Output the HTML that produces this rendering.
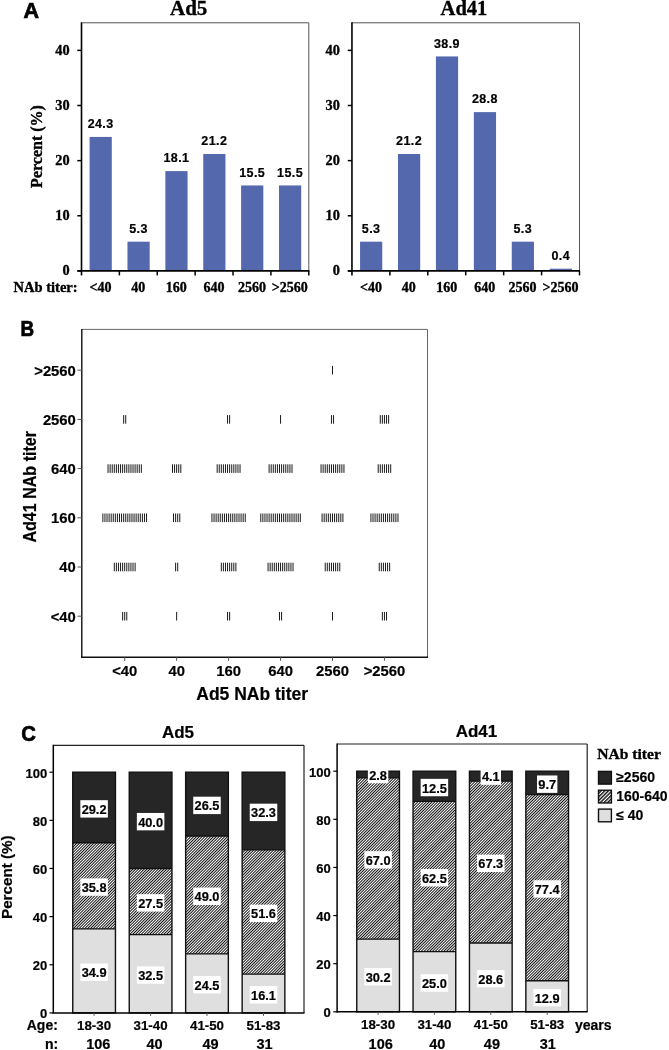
<!DOCTYPE html>
<html><head><meta charset="utf-8"><title>Figure</title>
<style>
html,body{margin:0;padding:0;background:#fff;}
body{width:669px;height:1050px;overflow:hidden;font-family:"Liberation Sans",sans-serif;}
svg{display:block;will-change:transform;}
</style></head><body>
<svg width="669" height="1050" viewBox="0 0 669 1050">
<rect width="669" height="1050" fill="#fff"/>
<text x="23.40" y="18.20" font-size="21.5" font-family="'Liberation Sans', sans-serif" font-weight="bold" text-anchor="start" fill="#000" stroke="#000" stroke-width="0.7" >A</text>
<rect x="89.59" y="136.93" width="22.20" height="133.97" fill="#5469AD"/>
<text x="100.64" y="128.13" font-size="12.5" font-family="'Liberation Sans', sans-serif" font-weight="bold" text-anchor="middle" fill="#000" stroke="#000" stroke-width="0.2" letter-spacing="0.4">24.3</text>
<text x="100.44" y="292.20" font-size="14" font-family="'Liberation Serif', serif" font-weight="bold" text-anchor="middle" fill="#000" stroke="#000" stroke-width="0.35" >&lt;40</text>
<rect x="127.47" y="241.68" width="22.20" height="29.22" fill="#5469AD"/>
<text x="138.52" y="232.88" font-size="12.5" font-family="'Liberation Sans', sans-serif" font-weight="bold" text-anchor="middle" fill="#000" stroke="#000" stroke-width="0.2" letter-spacing="0.4">5.3</text>
<text x="138.32" y="292.20" font-size="14" font-family="'Liberation Serif', serif" font-weight="bold" text-anchor="middle" fill="#000" stroke="#000" stroke-width="0.35" >40</text>
<rect x="165.36" y="171.11" width="22.20" height="99.79" fill="#5469AD"/>
<text x="176.41" y="162.31" font-size="12.5" font-family="'Liberation Sans', sans-serif" font-weight="bold" text-anchor="middle" fill="#000" stroke="#000" stroke-width="0.2" letter-spacing="0.4">18.1</text>
<text x="176.21" y="292.20" font-size="14" font-family="'Liberation Serif', serif" font-weight="bold" text-anchor="middle" fill="#000" stroke="#000" stroke-width="0.35" >160</text>
<rect x="203.24" y="154.02" width="22.20" height="116.88" fill="#5469AD"/>
<text x="214.29" y="145.22" font-size="12.5" font-family="'Liberation Sans', sans-serif" font-weight="bold" text-anchor="middle" fill="#000" stroke="#000" stroke-width="0.2" letter-spacing="0.4">21.2</text>
<text x="214.09" y="292.20" font-size="14" font-family="'Liberation Serif', serif" font-weight="bold" text-anchor="middle" fill="#000" stroke="#000" stroke-width="0.35" >640</text>
<rect x="241.12" y="185.44" width="22.20" height="85.46" fill="#5469AD"/>
<text x="252.17" y="176.64" font-size="12.5" font-family="'Liberation Sans', sans-serif" font-weight="bold" text-anchor="middle" fill="#000" stroke="#000" stroke-width="0.2" letter-spacing="0.4">15.5</text>
<text x="251.97" y="292.20" font-size="14" font-family="'Liberation Serif', serif" font-weight="bold" text-anchor="middle" fill="#000" stroke="#000" stroke-width="0.35" >2560</text>
<rect x="279.01" y="185.44" width="22.20" height="85.46" fill="#5469AD"/>
<text x="290.06" y="176.64" font-size="12.5" font-family="'Liberation Sans', sans-serif" font-weight="bold" text-anchor="middle" fill="#000" stroke="#000" stroke-width="0.2" letter-spacing="0.4">15.5</text>
<text x="289.86" y="292.20" font-size="14" font-family="'Liberation Serif', serif" font-weight="bold" text-anchor="middle" fill="#000" stroke="#000" stroke-width="0.35" >&gt;2560</text>
<line x1="81.50" y1="22.80" x2="308.80" y2="22.80" stroke="#555" stroke-width="1"/>
<line x1="308.80" y1="22.80" x2="308.80" y2="270.90" stroke="#555" stroke-width="1"/>
<line x1="81.50" y1="22.30" x2="81.50" y2="275.40" stroke="#000" stroke-width="1.6"/>
<line x1="77.40" y1="270.90" x2="309.30" y2="270.90" stroke="#000" stroke-width="1.7"/>
<line x1="77.30" y1="270.90" x2="81.50" y2="270.90" stroke="#000" stroke-width="1.5"/>
<text x="69.60" y="275.40" font-size="14.3" font-family="'Liberation Serif', serif" font-weight="bold" text-anchor="end" fill="#000" stroke="#000" stroke-width="0.35" >0</text>
<line x1="77.30" y1="215.77" x2="81.50" y2="215.77" stroke="#000" stroke-width="1.5"/>
<text x="69.60" y="220.27" font-size="14.3" font-family="'Liberation Serif', serif" font-weight="bold" text-anchor="end" fill="#000" stroke="#000" stroke-width="0.35" >10</text>
<line x1="77.30" y1="160.63" x2="81.50" y2="160.63" stroke="#000" stroke-width="1.5"/>
<text x="69.60" y="165.13" font-size="14.3" font-family="'Liberation Serif', serif" font-weight="bold" text-anchor="end" fill="#000" stroke="#000" stroke-width="0.35" >20</text>
<line x1="77.30" y1="105.50" x2="81.50" y2="105.50" stroke="#000" stroke-width="1.5"/>
<text x="69.60" y="110.00" font-size="14.3" font-family="'Liberation Serif', serif" font-weight="bold" text-anchor="end" fill="#000" stroke="#000" stroke-width="0.35" >30</text>
<line x1="77.30" y1="50.37" x2="81.50" y2="50.37" stroke="#000" stroke-width="1.5"/>
<text x="69.60" y="54.87" font-size="14.3" font-family="'Liberation Serif', serif" font-weight="bold" text-anchor="end" fill="#000" stroke="#000" stroke-width="0.35" >40</text>
<line x1="119.38" y1="270.90" x2="119.38" y2="275.40" stroke="#000" stroke-width="1.5"/>
<line x1="157.27" y1="270.90" x2="157.27" y2="275.40" stroke="#000" stroke-width="1.5"/>
<line x1="195.15" y1="270.90" x2="195.15" y2="275.40" stroke="#000" stroke-width="1.5"/>
<line x1="233.03" y1="270.90" x2="233.03" y2="275.40" stroke="#000" stroke-width="1.5"/>
<line x1="270.92" y1="270.90" x2="270.92" y2="275.40" stroke="#000" stroke-width="1.5"/>
<line x1="308.80" y1="270.90" x2="308.80" y2="275.40" stroke="#000" stroke-width="1.5"/>
<text x="170.00" y="15.20" font-size="21" font-family="'Liberation Serif', serif" font-weight="bold" text-anchor="start" fill="#000" stroke="#000" stroke-width="0.35" >Ad5</text>
<rect x="360.06" y="241.68" width="22.20" height="29.22" fill="#5469AD"/>
<text x="371.11" y="232.88" font-size="12.5" font-family="'Liberation Sans', sans-serif" font-weight="bold" text-anchor="middle" fill="#000" stroke="#000" stroke-width="0.2" letter-spacing="0.4">5.3</text>
<text x="370.91" y="292.20" font-size="14" font-family="'Liberation Serif', serif" font-weight="bold" text-anchor="middle" fill="#000" stroke="#000" stroke-width="0.35" >&lt;40</text>
<rect x="397.99" y="154.02" width="22.20" height="116.88" fill="#5469AD"/>
<text x="409.04" y="145.22" font-size="12.5" font-family="'Liberation Sans', sans-serif" font-weight="bold" text-anchor="middle" fill="#000" stroke="#000" stroke-width="0.2" letter-spacing="0.4">21.2</text>
<text x="408.84" y="292.20" font-size="14" font-family="'Liberation Serif', serif" font-weight="bold" text-anchor="middle" fill="#000" stroke="#000" stroke-width="0.35" >40</text>
<rect x="435.91" y="56.43" width="22.20" height="214.47" fill="#5469AD"/>
<text x="446.96" y="47.63" font-size="12.5" font-family="'Liberation Sans', sans-serif" font-weight="bold" text-anchor="middle" fill="#000" stroke="#000" stroke-width="0.2" letter-spacing="0.4">38.9</text>
<text x="446.76" y="292.20" font-size="14" font-family="'Liberation Serif', serif" font-weight="bold" text-anchor="middle" fill="#000" stroke="#000" stroke-width="0.35" >160</text>
<rect x="473.84" y="112.12" width="22.20" height="158.78" fill="#5469AD"/>
<text x="484.89" y="103.32" font-size="12.5" font-family="'Liberation Sans', sans-serif" font-weight="bold" text-anchor="middle" fill="#000" stroke="#000" stroke-width="0.2" letter-spacing="0.4">28.8</text>
<text x="484.69" y="292.20" font-size="14" font-family="'Liberation Serif', serif" font-weight="bold" text-anchor="middle" fill="#000" stroke="#000" stroke-width="0.35" >640</text>
<rect x="511.76" y="241.68" width="22.20" height="29.22" fill="#5469AD"/>
<text x="522.81" y="232.88" font-size="12.5" font-family="'Liberation Sans', sans-serif" font-weight="bold" text-anchor="middle" fill="#000" stroke="#000" stroke-width="0.2" letter-spacing="0.4">5.3</text>
<text x="522.61" y="292.20" font-size="14" font-family="'Liberation Serif', serif" font-weight="bold" text-anchor="middle" fill="#000" stroke="#000" stroke-width="0.35" >2560</text>
<rect x="549.69" y="268.69" width="22.20" height="2.21" fill="#5469AD"/>
<text x="560.74" y="259.89" font-size="12.5" font-family="'Liberation Sans', sans-serif" font-weight="bold" text-anchor="middle" fill="#000" stroke="#000" stroke-width="0.2" letter-spacing="0.4">0.4</text>
<text x="560.54" y="292.20" font-size="14" font-family="'Liberation Serif', serif" font-weight="bold" text-anchor="middle" fill="#000" stroke="#000" stroke-width="0.35" >&gt;2560</text>
<line x1="351.95" y1="22.80" x2="579.50" y2="22.80" stroke="#555" stroke-width="1"/>
<line x1="579.50" y1="22.80" x2="579.50" y2="270.90" stroke="#555" stroke-width="1"/>
<line x1="351.95" y1="22.30" x2="351.95" y2="275.40" stroke="#000" stroke-width="1.6"/>
<line x1="347.85" y1="270.90" x2="580.00" y2="270.90" stroke="#000" stroke-width="1.7"/>
<line x1="347.75" y1="270.90" x2="351.95" y2="270.90" stroke="#000" stroke-width="1.5"/>
<text x="339.90" y="275.40" font-size="14.3" font-family="'Liberation Serif', serif" font-weight="bold" text-anchor="end" fill="#000" stroke="#000" stroke-width="0.35" >0</text>
<line x1="347.75" y1="215.77" x2="351.95" y2="215.77" stroke="#000" stroke-width="1.5"/>
<text x="339.90" y="220.27" font-size="14.3" font-family="'Liberation Serif', serif" font-weight="bold" text-anchor="end" fill="#000" stroke="#000" stroke-width="0.35" >10</text>
<line x1="347.75" y1="160.63" x2="351.95" y2="160.63" stroke="#000" stroke-width="1.5"/>
<text x="339.90" y="165.13" font-size="14.3" font-family="'Liberation Serif', serif" font-weight="bold" text-anchor="end" fill="#000" stroke="#000" stroke-width="0.35" >20</text>
<line x1="347.75" y1="105.50" x2="351.95" y2="105.50" stroke="#000" stroke-width="1.5"/>
<text x="339.90" y="110.00" font-size="14.3" font-family="'Liberation Serif', serif" font-weight="bold" text-anchor="end" fill="#000" stroke="#000" stroke-width="0.35" >30</text>
<line x1="347.75" y1="50.37" x2="351.95" y2="50.37" stroke="#000" stroke-width="1.5"/>
<text x="339.90" y="54.87" font-size="14.3" font-family="'Liberation Serif', serif" font-weight="bold" text-anchor="end" fill="#000" stroke="#000" stroke-width="0.35" >40</text>
<line x1="389.88" y1="270.90" x2="389.88" y2="275.40" stroke="#000" stroke-width="1.5"/>
<line x1="427.80" y1="270.90" x2="427.80" y2="275.40" stroke="#000" stroke-width="1.5"/>
<line x1="465.73" y1="270.90" x2="465.73" y2="275.40" stroke="#000" stroke-width="1.5"/>
<line x1="503.65" y1="270.90" x2="503.65" y2="275.40" stroke="#000" stroke-width="1.5"/>
<line x1="541.58" y1="270.90" x2="541.58" y2="275.40" stroke="#000" stroke-width="1.5"/>
<line x1="579.50" y1="270.90" x2="579.50" y2="275.40" stroke="#000" stroke-width="1.5"/>
<text x="440.60" y="15.40" font-size="20.5" font-family="'Liberation Serif', serif" font-weight="bold" text-anchor="start" fill="#000" stroke="#000" stroke-width="0.35" >Ad41</text>
<text x="13.60" y="291.60" font-size="14.5" font-family="'Liberation Serif', serif" font-weight="bold" text-anchor="start" fill="#000" stroke="#000" stroke-width="0.35" >NAb titer:</text>
<text x="41.60" y="146.50" font-size="16" font-family="'Liberation Serif', serif" font-weight="bold" text-anchor="middle" fill="#000" stroke="#000" stroke-width="0.35" transform="rotate(-90 41.60 146.50)" >Percent (%)</text>
<text x="20.40" y="336.00" font-size="21.5" font-family="'Liberation Sans', sans-serif" font-weight="bold" text-anchor="start" fill="#000" stroke="#000" stroke-width="0.7" textLength="13.60" lengthAdjust="spacingAndGlyphs" >B</text>
<line x1="81.80" y1="329.40" x2="427.50" y2="329.40" stroke="#666" stroke-width="1"/>
<line x1="427.50" y1="329.40" x2="427.50" y2="657.30" stroke="#666" stroke-width="1"/>
<line x1="81.80" y1="328.90" x2="81.80" y2="658.00" stroke="#111" stroke-width="1.4"/>
<line x1="81.10" y1="657.30" x2="428.00" y2="657.30" stroke="#111" stroke-width="1.4"/>
<line x1="77.50" y1="616.20" x2="81.80" y2="616.20" stroke="#555" stroke-width="1"/>
<text x="75.80" y="621.60" font-size="14.8" font-family="'Liberation Sans', sans-serif" font-weight="bold" text-anchor="end" fill="#000" stroke="#000" stroke-width="0.2" >&lt;40</text>
<line x1="122.62" y1="611.90" x2="122.62" y2="620.50" stroke="#1a1a1a" stroke-width="1.0"/>
<line x1="124.70" y1="611.90" x2="124.70" y2="620.50" stroke="#1a1a1a" stroke-width="1.0"/>
<line x1="126.78" y1="611.90" x2="126.78" y2="620.50" stroke="#1a1a1a" stroke-width="1.0"/>
<line x1="176.65" y1="611.90" x2="176.65" y2="620.50" stroke="#1a1a1a" stroke-width="1.0"/>
<line x1="227.56" y1="611.90" x2="227.56" y2="620.50" stroke="#1a1a1a" stroke-width="1.0"/>
<line x1="229.64" y1="611.90" x2="229.64" y2="620.50" stroke="#1a1a1a" stroke-width="1.0"/>
<line x1="279.51" y1="611.90" x2="279.51" y2="620.50" stroke="#1a1a1a" stroke-width="1.0"/>
<line x1="281.59" y1="611.90" x2="281.59" y2="620.50" stroke="#1a1a1a" stroke-width="1.0"/>
<line x1="332.50" y1="611.90" x2="332.50" y2="620.50" stroke="#1a1a1a" stroke-width="1.0"/>
<line x1="382.37" y1="611.90" x2="382.37" y2="620.50" stroke="#1a1a1a" stroke-width="1.0"/>
<line x1="384.45" y1="611.90" x2="384.45" y2="620.50" stroke="#1a1a1a" stroke-width="1.0"/>
<line x1="386.53" y1="611.90" x2="386.53" y2="620.50" stroke="#1a1a1a" stroke-width="1.0"/>
<line x1="77.50" y1="567.00" x2="81.80" y2="567.00" stroke="#555" stroke-width="1"/>
<text x="75.80" y="572.40" font-size="14.8" font-family="'Liberation Sans', sans-serif" font-weight="bold" text-anchor="end" fill="#000" stroke="#000" stroke-width="0.2" >40</text>
<line x1="114.30" y1="562.70" x2="114.30" y2="571.30" stroke="#1a1a1a" stroke-width="1.0"/>
<line x1="116.38" y1="562.70" x2="116.38" y2="571.30" stroke="#1a1a1a" stroke-width="1.0"/>
<line x1="118.46" y1="562.70" x2="118.46" y2="571.30" stroke="#1a1a1a" stroke-width="1.0"/>
<line x1="120.54" y1="562.70" x2="120.54" y2="571.30" stroke="#1a1a1a" stroke-width="1.0"/>
<line x1="122.62" y1="562.70" x2="122.62" y2="571.30" stroke="#1a1a1a" stroke-width="1.0"/>
<line x1="124.70" y1="562.70" x2="124.70" y2="571.30" stroke="#1a1a1a" stroke-width="1.0"/>
<line x1="126.78" y1="562.70" x2="126.78" y2="571.30" stroke="#1a1a1a" stroke-width="1.0"/>
<line x1="128.86" y1="562.70" x2="128.86" y2="571.30" stroke="#1a1a1a" stroke-width="1.0"/>
<line x1="130.94" y1="562.70" x2="130.94" y2="571.30" stroke="#1a1a1a" stroke-width="1.0"/>
<line x1="133.02" y1="562.70" x2="133.02" y2="571.30" stroke="#1a1a1a" stroke-width="1.0"/>
<line x1="135.10" y1="562.70" x2="135.10" y2="571.30" stroke="#1a1a1a" stroke-width="1.0"/>
<line x1="175.61" y1="562.70" x2="175.61" y2="571.30" stroke="#1a1a1a" stroke-width="1.0"/>
<line x1="177.69" y1="562.70" x2="177.69" y2="571.30" stroke="#1a1a1a" stroke-width="1.0"/>
<line x1="221.32" y1="562.70" x2="221.32" y2="571.30" stroke="#1a1a1a" stroke-width="1.0"/>
<line x1="223.40" y1="562.70" x2="223.40" y2="571.30" stroke="#1a1a1a" stroke-width="1.0"/>
<line x1="225.48" y1="562.70" x2="225.48" y2="571.30" stroke="#1a1a1a" stroke-width="1.0"/>
<line x1="227.56" y1="562.70" x2="227.56" y2="571.30" stroke="#1a1a1a" stroke-width="1.0"/>
<line x1="229.64" y1="562.70" x2="229.64" y2="571.30" stroke="#1a1a1a" stroke-width="1.0"/>
<line x1="231.72" y1="562.70" x2="231.72" y2="571.30" stroke="#1a1a1a" stroke-width="1.0"/>
<line x1="233.80" y1="562.70" x2="233.80" y2="571.30" stroke="#1a1a1a" stroke-width="1.0"/>
<line x1="235.88" y1="562.70" x2="235.88" y2="571.30" stroke="#1a1a1a" stroke-width="1.0"/>
<line x1="268.07" y1="562.70" x2="268.07" y2="571.30" stroke="#1a1a1a" stroke-width="1.0"/>
<line x1="270.15" y1="562.70" x2="270.15" y2="571.30" stroke="#1a1a1a" stroke-width="1.0"/>
<line x1="272.23" y1="562.70" x2="272.23" y2="571.30" stroke="#1a1a1a" stroke-width="1.0"/>
<line x1="274.31" y1="562.70" x2="274.31" y2="571.30" stroke="#1a1a1a" stroke-width="1.0"/>
<line x1="276.39" y1="562.70" x2="276.39" y2="571.30" stroke="#1a1a1a" stroke-width="1.0"/>
<line x1="278.47" y1="562.70" x2="278.47" y2="571.30" stroke="#1a1a1a" stroke-width="1.0"/>
<line x1="280.55" y1="562.70" x2="280.55" y2="571.30" stroke="#1a1a1a" stroke-width="1.0"/>
<line x1="282.63" y1="562.70" x2="282.63" y2="571.30" stroke="#1a1a1a" stroke-width="1.0"/>
<line x1="284.71" y1="562.70" x2="284.71" y2="571.30" stroke="#1a1a1a" stroke-width="1.0"/>
<line x1="286.79" y1="562.70" x2="286.79" y2="571.30" stroke="#1a1a1a" stroke-width="1.0"/>
<line x1="288.87" y1="562.70" x2="288.87" y2="571.30" stroke="#1a1a1a" stroke-width="1.0"/>
<line x1="290.95" y1="562.70" x2="290.95" y2="571.30" stroke="#1a1a1a" stroke-width="1.0"/>
<line x1="293.03" y1="562.70" x2="293.03" y2="571.30" stroke="#1a1a1a" stroke-width="1.0"/>
<line x1="325.22" y1="562.70" x2="325.22" y2="571.30" stroke="#1a1a1a" stroke-width="1.0"/>
<line x1="327.30" y1="562.70" x2="327.30" y2="571.30" stroke="#1a1a1a" stroke-width="1.0"/>
<line x1="329.38" y1="562.70" x2="329.38" y2="571.30" stroke="#1a1a1a" stroke-width="1.0"/>
<line x1="331.46" y1="562.70" x2="331.46" y2="571.30" stroke="#1a1a1a" stroke-width="1.0"/>
<line x1="333.54" y1="562.70" x2="333.54" y2="571.30" stroke="#1a1a1a" stroke-width="1.0"/>
<line x1="335.62" y1="562.70" x2="335.62" y2="571.30" stroke="#1a1a1a" stroke-width="1.0"/>
<line x1="337.70" y1="562.70" x2="337.70" y2="571.30" stroke="#1a1a1a" stroke-width="1.0"/>
<line x1="339.78" y1="562.70" x2="339.78" y2="571.30" stroke="#1a1a1a" stroke-width="1.0"/>
<line x1="379.25" y1="562.70" x2="379.25" y2="571.30" stroke="#1a1a1a" stroke-width="1.0"/>
<line x1="381.33" y1="562.70" x2="381.33" y2="571.30" stroke="#1a1a1a" stroke-width="1.0"/>
<line x1="383.41" y1="562.70" x2="383.41" y2="571.30" stroke="#1a1a1a" stroke-width="1.0"/>
<line x1="385.49" y1="562.70" x2="385.49" y2="571.30" stroke="#1a1a1a" stroke-width="1.0"/>
<line x1="387.57" y1="562.70" x2="387.57" y2="571.30" stroke="#1a1a1a" stroke-width="1.0"/>
<line x1="389.65" y1="562.70" x2="389.65" y2="571.30" stroke="#1a1a1a" stroke-width="1.0"/>
<line x1="77.50" y1="517.80" x2="81.80" y2="517.80" stroke="#555" stroke-width="1"/>
<text x="75.80" y="523.20" font-size="14.8" font-family="'Liberation Sans', sans-serif" font-weight="bold" text-anchor="end" fill="#000" stroke="#000" stroke-width="0.2" >160</text>
<line x1="102.86" y1="513.50" x2="102.86" y2="522.10" stroke="#1a1a1a" stroke-width="1.0"/>
<line x1="104.94" y1="513.50" x2="104.94" y2="522.10" stroke="#1a1a1a" stroke-width="1.0"/>
<line x1="107.02" y1="513.50" x2="107.02" y2="522.10" stroke="#1a1a1a" stroke-width="1.0"/>
<line x1="109.10" y1="513.50" x2="109.10" y2="522.10" stroke="#1a1a1a" stroke-width="1.0"/>
<line x1="111.18" y1="513.50" x2="111.18" y2="522.10" stroke="#1a1a1a" stroke-width="1.0"/>
<line x1="113.26" y1="513.50" x2="113.26" y2="522.10" stroke="#1a1a1a" stroke-width="1.0"/>
<line x1="115.34" y1="513.50" x2="115.34" y2="522.10" stroke="#1a1a1a" stroke-width="1.0"/>
<line x1="117.42" y1="513.50" x2="117.42" y2="522.10" stroke="#1a1a1a" stroke-width="1.0"/>
<line x1="119.50" y1="513.50" x2="119.50" y2="522.10" stroke="#1a1a1a" stroke-width="1.0"/>
<line x1="121.58" y1="513.50" x2="121.58" y2="522.10" stroke="#1a1a1a" stroke-width="1.0"/>
<line x1="123.66" y1="513.50" x2="123.66" y2="522.10" stroke="#1a1a1a" stroke-width="1.0"/>
<line x1="125.74" y1="513.50" x2="125.74" y2="522.10" stroke="#1a1a1a" stroke-width="1.0"/>
<line x1="127.82" y1="513.50" x2="127.82" y2="522.10" stroke="#1a1a1a" stroke-width="1.0"/>
<line x1="129.90" y1="513.50" x2="129.90" y2="522.10" stroke="#1a1a1a" stroke-width="1.0"/>
<line x1="131.98" y1="513.50" x2="131.98" y2="522.10" stroke="#1a1a1a" stroke-width="1.0"/>
<line x1="134.06" y1="513.50" x2="134.06" y2="522.10" stroke="#1a1a1a" stroke-width="1.0"/>
<line x1="136.14" y1="513.50" x2="136.14" y2="522.10" stroke="#1a1a1a" stroke-width="1.0"/>
<line x1="138.22" y1="513.50" x2="138.22" y2="522.10" stroke="#1a1a1a" stroke-width="1.0"/>
<line x1="140.30" y1="513.50" x2="140.30" y2="522.10" stroke="#1a1a1a" stroke-width="1.0"/>
<line x1="142.38" y1="513.50" x2="142.38" y2="522.10" stroke="#1a1a1a" stroke-width="1.0"/>
<line x1="144.46" y1="513.50" x2="144.46" y2="522.10" stroke="#1a1a1a" stroke-width="1.0"/>
<line x1="146.54" y1="513.50" x2="146.54" y2="522.10" stroke="#1a1a1a" stroke-width="1.0"/>
<line x1="173.53" y1="513.50" x2="173.53" y2="522.10" stroke="#1a1a1a" stroke-width="1.0"/>
<line x1="175.61" y1="513.50" x2="175.61" y2="522.10" stroke="#1a1a1a" stroke-width="1.0"/>
<line x1="177.69" y1="513.50" x2="177.69" y2="522.10" stroke="#1a1a1a" stroke-width="1.0"/>
<line x1="179.77" y1="513.50" x2="179.77" y2="522.10" stroke="#1a1a1a" stroke-width="1.0"/>
<line x1="211.96" y1="513.50" x2="211.96" y2="522.10" stroke="#1a1a1a" stroke-width="1.0"/>
<line x1="214.04" y1="513.50" x2="214.04" y2="522.10" stroke="#1a1a1a" stroke-width="1.0"/>
<line x1="216.12" y1="513.50" x2="216.12" y2="522.10" stroke="#1a1a1a" stroke-width="1.0"/>
<line x1="218.20" y1="513.50" x2="218.20" y2="522.10" stroke="#1a1a1a" stroke-width="1.0"/>
<line x1="220.28" y1="513.50" x2="220.28" y2="522.10" stroke="#1a1a1a" stroke-width="1.0"/>
<line x1="222.36" y1="513.50" x2="222.36" y2="522.10" stroke="#1a1a1a" stroke-width="1.0"/>
<line x1="224.44" y1="513.50" x2="224.44" y2="522.10" stroke="#1a1a1a" stroke-width="1.0"/>
<line x1="226.52" y1="513.50" x2="226.52" y2="522.10" stroke="#1a1a1a" stroke-width="1.0"/>
<line x1="228.60" y1="513.50" x2="228.60" y2="522.10" stroke="#1a1a1a" stroke-width="1.0"/>
<line x1="230.68" y1="513.50" x2="230.68" y2="522.10" stroke="#1a1a1a" stroke-width="1.0"/>
<line x1="232.76" y1="513.50" x2="232.76" y2="522.10" stroke="#1a1a1a" stroke-width="1.0"/>
<line x1="234.84" y1="513.50" x2="234.84" y2="522.10" stroke="#1a1a1a" stroke-width="1.0"/>
<line x1="236.92" y1="513.50" x2="236.92" y2="522.10" stroke="#1a1a1a" stroke-width="1.0"/>
<line x1="239.00" y1="513.50" x2="239.00" y2="522.10" stroke="#1a1a1a" stroke-width="1.0"/>
<line x1="241.08" y1="513.50" x2="241.08" y2="522.10" stroke="#1a1a1a" stroke-width="1.0"/>
<line x1="243.16" y1="513.50" x2="243.16" y2="522.10" stroke="#1a1a1a" stroke-width="1.0"/>
<line x1="245.24" y1="513.50" x2="245.24" y2="522.10" stroke="#1a1a1a" stroke-width="1.0"/>
<line x1="260.79" y1="513.50" x2="260.79" y2="522.10" stroke="#1a1a1a" stroke-width="1.0"/>
<line x1="262.87" y1="513.50" x2="262.87" y2="522.10" stroke="#1a1a1a" stroke-width="1.0"/>
<line x1="264.95" y1="513.50" x2="264.95" y2="522.10" stroke="#1a1a1a" stroke-width="1.0"/>
<line x1="267.03" y1="513.50" x2="267.03" y2="522.10" stroke="#1a1a1a" stroke-width="1.0"/>
<line x1="269.11" y1="513.50" x2="269.11" y2="522.10" stroke="#1a1a1a" stroke-width="1.0"/>
<line x1="271.19" y1="513.50" x2="271.19" y2="522.10" stroke="#1a1a1a" stroke-width="1.0"/>
<line x1="273.27" y1="513.50" x2="273.27" y2="522.10" stroke="#1a1a1a" stroke-width="1.0"/>
<line x1="275.35" y1="513.50" x2="275.35" y2="522.10" stroke="#1a1a1a" stroke-width="1.0"/>
<line x1="277.43" y1="513.50" x2="277.43" y2="522.10" stroke="#1a1a1a" stroke-width="1.0"/>
<line x1="279.51" y1="513.50" x2="279.51" y2="522.10" stroke="#1a1a1a" stroke-width="1.0"/>
<line x1="281.59" y1="513.50" x2="281.59" y2="522.10" stroke="#1a1a1a" stroke-width="1.0"/>
<line x1="283.67" y1="513.50" x2="283.67" y2="522.10" stroke="#1a1a1a" stroke-width="1.0"/>
<line x1="285.75" y1="513.50" x2="285.75" y2="522.10" stroke="#1a1a1a" stroke-width="1.0"/>
<line x1="287.83" y1="513.50" x2="287.83" y2="522.10" stroke="#1a1a1a" stroke-width="1.0"/>
<line x1="289.91" y1="513.50" x2="289.91" y2="522.10" stroke="#1a1a1a" stroke-width="1.0"/>
<line x1="291.99" y1="513.50" x2="291.99" y2="522.10" stroke="#1a1a1a" stroke-width="1.0"/>
<line x1="294.07" y1="513.50" x2="294.07" y2="522.10" stroke="#1a1a1a" stroke-width="1.0"/>
<line x1="296.15" y1="513.50" x2="296.15" y2="522.10" stroke="#1a1a1a" stroke-width="1.0"/>
<line x1="298.23" y1="513.50" x2="298.23" y2="522.10" stroke="#1a1a1a" stroke-width="1.0"/>
<line x1="300.31" y1="513.50" x2="300.31" y2="522.10" stroke="#1a1a1a" stroke-width="1.0"/>
<line x1="322.10" y1="513.50" x2="322.10" y2="522.10" stroke="#1a1a1a" stroke-width="1.0"/>
<line x1="324.18" y1="513.50" x2="324.18" y2="522.10" stroke="#1a1a1a" stroke-width="1.0"/>
<line x1="326.26" y1="513.50" x2="326.26" y2="522.10" stroke="#1a1a1a" stroke-width="1.0"/>
<line x1="328.34" y1="513.50" x2="328.34" y2="522.10" stroke="#1a1a1a" stroke-width="1.0"/>
<line x1="330.42" y1="513.50" x2="330.42" y2="522.10" stroke="#1a1a1a" stroke-width="1.0"/>
<line x1="332.50" y1="513.50" x2="332.50" y2="522.10" stroke="#1a1a1a" stroke-width="1.0"/>
<line x1="334.58" y1="513.50" x2="334.58" y2="522.10" stroke="#1a1a1a" stroke-width="1.0"/>
<line x1="336.66" y1="513.50" x2="336.66" y2="522.10" stroke="#1a1a1a" stroke-width="1.0"/>
<line x1="338.74" y1="513.50" x2="338.74" y2="522.10" stroke="#1a1a1a" stroke-width="1.0"/>
<line x1="340.82" y1="513.50" x2="340.82" y2="522.10" stroke="#1a1a1a" stroke-width="1.0"/>
<line x1="342.90" y1="513.50" x2="342.90" y2="522.10" stroke="#1a1a1a" stroke-width="1.0"/>
<line x1="370.93" y1="513.50" x2="370.93" y2="522.10" stroke="#1a1a1a" stroke-width="1.0"/>
<line x1="373.01" y1="513.50" x2="373.01" y2="522.10" stroke="#1a1a1a" stroke-width="1.0"/>
<line x1="375.09" y1="513.50" x2="375.09" y2="522.10" stroke="#1a1a1a" stroke-width="1.0"/>
<line x1="377.17" y1="513.50" x2="377.17" y2="522.10" stroke="#1a1a1a" stroke-width="1.0"/>
<line x1="379.25" y1="513.50" x2="379.25" y2="522.10" stroke="#1a1a1a" stroke-width="1.0"/>
<line x1="381.33" y1="513.50" x2="381.33" y2="522.10" stroke="#1a1a1a" stroke-width="1.0"/>
<line x1="383.41" y1="513.50" x2="383.41" y2="522.10" stroke="#1a1a1a" stroke-width="1.0"/>
<line x1="385.49" y1="513.50" x2="385.49" y2="522.10" stroke="#1a1a1a" stroke-width="1.0"/>
<line x1="387.57" y1="513.50" x2="387.57" y2="522.10" stroke="#1a1a1a" stroke-width="1.0"/>
<line x1="389.65" y1="513.50" x2="389.65" y2="522.10" stroke="#1a1a1a" stroke-width="1.0"/>
<line x1="391.73" y1="513.50" x2="391.73" y2="522.10" stroke="#1a1a1a" stroke-width="1.0"/>
<line x1="393.81" y1="513.50" x2="393.81" y2="522.10" stroke="#1a1a1a" stroke-width="1.0"/>
<line x1="395.89" y1="513.50" x2="395.89" y2="522.10" stroke="#1a1a1a" stroke-width="1.0"/>
<line x1="397.97" y1="513.50" x2="397.97" y2="522.10" stroke="#1a1a1a" stroke-width="1.0"/>
<line x1="77.50" y1="468.60" x2="81.80" y2="468.60" stroke="#555" stroke-width="1"/>
<text x="75.80" y="474.00" font-size="14.8" font-family="'Liberation Sans', sans-serif" font-weight="bold" text-anchor="end" fill="#000" stroke="#000" stroke-width="0.2" >640</text>
<line x1="108.06" y1="464.30" x2="108.06" y2="472.90" stroke="#1a1a1a" stroke-width="1.0"/>
<line x1="110.14" y1="464.30" x2="110.14" y2="472.90" stroke="#1a1a1a" stroke-width="1.0"/>
<line x1="112.22" y1="464.30" x2="112.22" y2="472.90" stroke="#1a1a1a" stroke-width="1.0"/>
<line x1="114.30" y1="464.30" x2="114.30" y2="472.90" stroke="#1a1a1a" stroke-width="1.0"/>
<line x1="116.38" y1="464.30" x2="116.38" y2="472.90" stroke="#1a1a1a" stroke-width="1.0"/>
<line x1="118.46" y1="464.30" x2="118.46" y2="472.90" stroke="#1a1a1a" stroke-width="1.0"/>
<line x1="120.54" y1="464.30" x2="120.54" y2="472.90" stroke="#1a1a1a" stroke-width="1.0"/>
<line x1="122.62" y1="464.30" x2="122.62" y2="472.90" stroke="#1a1a1a" stroke-width="1.0"/>
<line x1="124.70" y1="464.30" x2="124.70" y2="472.90" stroke="#1a1a1a" stroke-width="1.0"/>
<line x1="126.78" y1="464.30" x2="126.78" y2="472.90" stroke="#1a1a1a" stroke-width="1.0"/>
<line x1="128.86" y1="464.30" x2="128.86" y2="472.90" stroke="#1a1a1a" stroke-width="1.0"/>
<line x1="130.94" y1="464.30" x2="130.94" y2="472.90" stroke="#1a1a1a" stroke-width="1.0"/>
<line x1="133.02" y1="464.30" x2="133.02" y2="472.90" stroke="#1a1a1a" stroke-width="1.0"/>
<line x1="135.10" y1="464.30" x2="135.10" y2="472.90" stroke="#1a1a1a" stroke-width="1.0"/>
<line x1="137.18" y1="464.30" x2="137.18" y2="472.90" stroke="#1a1a1a" stroke-width="1.0"/>
<line x1="139.26" y1="464.30" x2="139.26" y2="472.90" stroke="#1a1a1a" stroke-width="1.0"/>
<line x1="141.34" y1="464.30" x2="141.34" y2="472.90" stroke="#1a1a1a" stroke-width="1.0"/>
<line x1="172.49" y1="464.30" x2="172.49" y2="472.90" stroke="#1a1a1a" stroke-width="1.0"/>
<line x1="174.57" y1="464.30" x2="174.57" y2="472.90" stroke="#1a1a1a" stroke-width="1.0"/>
<line x1="176.65" y1="464.30" x2="176.65" y2="472.90" stroke="#1a1a1a" stroke-width="1.0"/>
<line x1="178.73" y1="464.30" x2="178.73" y2="472.90" stroke="#1a1a1a" stroke-width="1.0"/>
<line x1="180.81" y1="464.30" x2="180.81" y2="472.90" stroke="#1a1a1a" stroke-width="1.0"/>
<line x1="217.16" y1="464.30" x2="217.16" y2="472.90" stroke="#1a1a1a" stroke-width="1.0"/>
<line x1="219.24" y1="464.30" x2="219.24" y2="472.90" stroke="#1a1a1a" stroke-width="1.0"/>
<line x1="221.32" y1="464.30" x2="221.32" y2="472.90" stroke="#1a1a1a" stroke-width="1.0"/>
<line x1="223.40" y1="464.30" x2="223.40" y2="472.90" stroke="#1a1a1a" stroke-width="1.0"/>
<line x1="225.48" y1="464.30" x2="225.48" y2="472.90" stroke="#1a1a1a" stroke-width="1.0"/>
<line x1="227.56" y1="464.30" x2="227.56" y2="472.90" stroke="#1a1a1a" stroke-width="1.0"/>
<line x1="229.64" y1="464.30" x2="229.64" y2="472.90" stroke="#1a1a1a" stroke-width="1.0"/>
<line x1="231.72" y1="464.30" x2="231.72" y2="472.90" stroke="#1a1a1a" stroke-width="1.0"/>
<line x1="233.80" y1="464.30" x2="233.80" y2="472.90" stroke="#1a1a1a" stroke-width="1.0"/>
<line x1="235.88" y1="464.30" x2="235.88" y2="472.90" stroke="#1a1a1a" stroke-width="1.0"/>
<line x1="237.96" y1="464.30" x2="237.96" y2="472.90" stroke="#1a1a1a" stroke-width="1.0"/>
<line x1="240.04" y1="464.30" x2="240.04" y2="472.90" stroke="#1a1a1a" stroke-width="1.0"/>
<line x1="269.11" y1="464.30" x2="269.11" y2="472.90" stroke="#1a1a1a" stroke-width="1.0"/>
<line x1="271.19" y1="464.30" x2="271.19" y2="472.90" stroke="#1a1a1a" stroke-width="1.0"/>
<line x1="273.27" y1="464.30" x2="273.27" y2="472.90" stroke="#1a1a1a" stroke-width="1.0"/>
<line x1="275.35" y1="464.30" x2="275.35" y2="472.90" stroke="#1a1a1a" stroke-width="1.0"/>
<line x1="277.43" y1="464.30" x2="277.43" y2="472.90" stroke="#1a1a1a" stroke-width="1.0"/>
<line x1="279.51" y1="464.30" x2="279.51" y2="472.90" stroke="#1a1a1a" stroke-width="1.0"/>
<line x1="281.59" y1="464.30" x2="281.59" y2="472.90" stroke="#1a1a1a" stroke-width="1.0"/>
<line x1="283.67" y1="464.30" x2="283.67" y2="472.90" stroke="#1a1a1a" stroke-width="1.0"/>
<line x1="285.75" y1="464.30" x2="285.75" y2="472.90" stroke="#1a1a1a" stroke-width="1.0"/>
<line x1="287.83" y1="464.30" x2="287.83" y2="472.90" stroke="#1a1a1a" stroke-width="1.0"/>
<line x1="289.91" y1="464.30" x2="289.91" y2="472.90" stroke="#1a1a1a" stroke-width="1.0"/>
<line x1="291.99" y1="464.30" x2="291.99" y2="472.90" stroke="#1a1a1a" stroke-width="1.0"/>
<line x1="321.06" y1="464.30" x2="321.06" y2="472.90" stroke="#1a1a1a" stroke-width="1.0"/>
<line x1="323.14" y1="464.30" x2="323.14" y2="472.90" stroke="#1a1a1a" stroke-width="1.0"/>
<line x1="325.22" y1="464.30" x2="325.22" y2="472.90" stroke="#1a1a1a" stroke-width="1.0"/>
<line x1="327.30" y1="464.30" x2="327.30" y2="472.90" stroke="#1a1a1a" stroke-width="1.0"/>
<line x1="329.38" y1="464.30" x2="329.38" y2="472.90" stroke="#1a1a1a" stroke-width="1.0"/>
<line x1="331.46" y1="464.30" x2="331.46" y2="472.90" stroke="#1a1a1a" stroke-width="1.0"/>
<line x1="333.54" y1="464.30" x2="333.54" y2="472.90" stroke="#1a1a1a" stroke-width="1.0"/>
<line x1="335.62" y1="464.30" x2="335.62" y2="472.90" stroke="#1a1a1a" stroke-width="1.0"/>
<line x1="337.70" y1="464.30" x2="337.70" y2="472.90" stroke="#1a1a1a" stroke-width="1.0"/>
<line x1="339.78" y1="464.30" x2="339.78" y2="472.90" stroke="#1a1a1a" stroke-width="1.0"/>
<line x1="341.86" y1="464.30" x2="341.86" y2="472.90" stroke="#1a1a1a" stroke-width="1.0"/>
<line x1="343.94" y1="464.30" x2="343.94" y2="472.90" stroke="#1a1a1a" stroke-width="1.0"/>
<line x1="378.21" y1="464.30" x2="378.21" y2="472.90" stroke="#1a1a1a" stroke-width="1.0"/>
<line x1="380.29" y1="464.30" x2="380.29" y2="472.90" stroke="#1a1a1a" stroke-width="1.0"/>
<line x1="382.37" y1="464.30" x2="382.37" y2="472.90" stroke="#1a1a1a" stroke-width="1.0"/>
<line x1="384.45" y1="464.30" x2="384.45" y2="472.90" stroke="#1a1a1a" stroke-width="1.0"/>
<line x1="386.53" y1="464.30" x2="386.53" y2="472.90" stroke="#1a1a1a" stroke-width="1.0"/>
<line x1="388.61" y1="464.30" x2="388.61" y2="472.90" stroke="#1a1a1a" stroke-width="1.0"/>
<line x1="390.69" y1="464.30" x2="390.69" y2="472.90" stroke="#1a1a1a" stroke-width="1.0"/>
<line x1="77.50" y1="419.40" x2="81.80" y2="419.40" stroke="#555" stroke-width="1"/>
<text x="75.80" y="424.80" font-size="14.8" font-family="'Liberation Sans', sans-serif" font-weight="bold" text-anchor="end" fill="#000" stroke="#000" stroke-width="0.2" >2560</text>
<line x1="123.66" y1="415.10" x2="123.66" y2="423.70" stroke="#1a1a1a" stroke-width="1.0"/>
<line x1="125.74" y1="415.10" x2="125.74" y2="423.70" stroke="#1a1a1a" stroke-width="1.0"/>
<line x1="227.56" y1="415.10" x2="227.56" y2="423.70" stroke="#1a1a1a" stroke-width="1.0"/>
<line x1="229.64" y1="415.10" x2="229.64" y2="423.70" stroke="#1a1a1a" stroke-width="1.0"/>
<line x1="280.55" y1="415.10" x2="280.55" y2="423.70" stroke="#1a1a1a" stroke-width="1.0"/>
<line x1="331.46" y1="415.10" x2="331.46" y2="423.70" stroke="#1a1a1a" stroke-width="1.0"/>
<line x1="333.54" y1="415.10" x2="333.54" y2="423.70" stroke="#1a1a1a" stroke-width="1.0"/>
<line x1="380.29" y1="415.10" x2="380.29" y2="423.70" stroke="#1a1a1a" stroke-width="1.0"/>
<line x1="382.37" y1="415.10" x2="382.37" y2="423.70" stroke="#1a1a1a" stroke-width="1.0"/>
<line x1="384.45" y1="415.10" x2="384.45" y2="423.70" stroke="#1a1a1a" stroke-width="1.0"/>
<line x1="386.53" y1="415.10" x2="386.53" y2="423.70" stroke="#1a1a1a" stroke-width="1.0"/>
<line x1="388.61" y1="415.10" x2="388.61" y2="423.70" stroke="#1a1a1a" stroke-width="1.0"/>
<line x1="77.50" y1="370.20" x2="81.80" y2="370.20" stroke="#555" stroke-width="1"/>
<text x="75.80" y="375.60" font-size="14.8" font-family="'Liberation Sans', sans-serif" font-weight="bold" text-anchor="end" fill="#000" stroke="#000" stroke-width="0.2" >&gt;2560</text>
<line x1="332.50" y1="365.90" x2="332.50" y2="374.50" stroke="#1a1a1a" stroke-width="1.0"/>
<line x1="124.70" y1="657.30" x2="124.70" y2="660.80" stroke="#555" stroke-width="1"/>
<text x="124.70" y="675.80" font-size="14.8" font-family="'Liberation Sans', sans-serif" font-weight="bold" text-anchor="middle" fill="#000" stroke="#000" stroke-width="0.2" >&lt;40</text>
<line x1="176.65" y1="657.30" x2="176.65" y2="660.80" stroke="#555" stroke-width="1"/>
<text x="176.65" y="675.80" font-size="14.8" font-family="'Liberation Sans', sans-serif" font-weight="bold" text-anchor="middle" fill="#000" stroke="#000" stroke-width="0.2" >40</text>
<line x1="228.60" y1="657.30" x2="228.60" y2="660.80" stroke="#555" stroke-width="1"/>
<text x="228.60" y="675.80" font-size="14.8" font-family="'Liberation Sans', sans-serif" font-weight="bold" text-anchor="middle" fill="#000" stroke="#000" stroke-width="0.2" >160</text>
<line x1="280.55" y1="657.30" x2="280.55" y2="660.80" stroke="#555" stroke-width="1"/>
<text x="280.55" y="675.80" font-size="14.8" font-family="'Liberation Sans', sans-serif" font-weight="bold" text-anchor="middle" fill="#000" stroke="#000" stroke-width="0.2" >640</text>
<line x1="332.50" y1="657.30" x2="332.50" y2="660.80" stroke="#555" stroke-width="1"/>
<text x="332.50" y="675.80" font-size="14.8" font-family="'Liberation Sans', sans-serif" font-weight="bold" text-anchor="middle" fill="#000" stroke="#000" stroke-width="0.2" >2560</text>
<line x1="384.45" y1="657.30" x2="384.45" y2="660.80" stroke="#555" stroke-width="1"/>
<text x="384.45" y="675.80" font-size="14.8" font-family="'Liberation Sans', sans-serif" font-weight="bold" text-anchor="middle" fill="#000" stroke="#000" stroke-width="0.2" >&gt;2560</text>
<text x="252.20" y="700.30" font-size="17.5" font-family="'Liberation Sans', sans-serif" font-weight="bold" text-anchor="middle" fill="#000" stroke="#000" stroke-width="0.2" >Ad5 NAb titer</text>
<text x="35.60" y="486.80" font-size="17.5" font-family="'Liberation Sans', sans-serif" font-weight="bold" text-anchor="middle" fill="#000" stroke="#000" stroke-width="0.2" textLength="111.50" lengthAdjust="spacingAndGlyphs" transform="rotate(-90 35.60 486.80)" >Ad41 NAb titer</text>
<text x="21.20" y="741.20" font-size="22" font-family="'Liberation Sans', sans-serif" font-weight="bold" text-anchor="start" fill="#000" stroke="#000" stroke-width="0.7" textLength="14.60" lengthAdjust="spacingAndGlyphs" >C</text>
<defs><pattern id="hatch" patternUnits="userSpaceOnUse" width="2.0" height="2.0" patternTransform="rotate(45)">
<rect width="2.0" height="2.0" fill="#fff"/><rect x="0" y="0" width="1.0" height="2.0" fill="#111"/></pattern>
<pattern id="hatch2" patternUnits="userSpaceOnUse" width="2.6" height="2.6" patternTransform="translate(0.5 0.5) rotate(45)">
<rect width="2.6" height="2.6" fill="#fff"/><rect x="0" y="0" width="1.4" height="2.6" fill="#111"/></pattern></defs>
<rect x="72.75" y="928.90" width="42.70" height="84.00" fill="#DFDFDF"/>
<rect x="72.75" y="842.73" width="42.70" height="86.17" fill="url(#hatch)"/>
<rect x="72.75" y="772.20" width="42.70" height="70.53" fill="#262626"/>
<rect x="72.75" y="772.20" width="42.70" height="240.70" fill="none" stroke="#111" stroke-width="1.4"/>
<line x1="72.75" y1="928.90" x2="115.45" y2="928.90" stroke="#111" stroke-width="1.3"/>
<line x1="72.75" y1="842.73" x2="115.45" y2="842.73" stroke="#111" stroke-width="1.3"/>
<rect x="129.25" y="934.67" width="42.70" height="78.23" fill="#DFDFDF"/>
<rect x="129.25" y="868.48" width="42.70" height="66.19" fill="url(#hatch)"/>
<rect x="129.25" y="772.20" width="42.70" height="96.28" fill="#262626"/>
<rect x="129.25" y="772.20" width="42.70" height="240.70" fill="none" stroke="#111" stroke-width="1.4"/>
<line x1="129.25" y1="934.67" x2="171.95" y2="934.67" stroke="#111" stroke-width="1.3"/>
<line x1="129.25" y1="868.48" x2="171.95" y2="868.48" stroke="#111" stroke-width="1.3"/>
<rect x="185.65" y="953.93" width="42.70" height="58.97" fill="#DFDFDF"/>
<rect x="185.65" y="835.99" width="42.70" height="117.94" fill="url(#hatch)"/>
<rect x="185.65" y="772.20" width="42.70" height="63.79" fill="#262626"/>
<rect x="185.65" y="772.20" width="42.70" height="240.70" fill="none" stroke="#111" stroke-width="1.4"/>
<line x1="185.65" y1="953.93" x2="228.35" y2="953.93" stroke="#111" stroke-width="1.3"/>
<line x1="185.65" y1="835.99" x2="228.35" y2="835.99" stroke="#111" stroke-width="1.3"/>
<rect x="242.15" y="974.15" width="42.70" height="38.75" fill="#DFDFDF"/>
<rect x="242.15" y="849.95" width="42.70" height="124.20" fill="url(#hatch)"/>
<rect x="242.15" y="772.20" width="42.70" height="77.75" fill="#262626"/>
<rect x="242.15" y="772.20" width="42.70" height="240.70" fill="none" stroke="#111" stroke-width="1.4"/>
<line x1="242.15" y1="974.15" x2="284.85" y2="974.15" stroke="#111" stroke-width="1.3"/>
<line x1="242.15" y1="849.95" x2="284.85" y2="849.95" stroke="#111" stroke-width="1.3"/>
<rect x="80.35" y="963.50" width="27.51" height="17.40" fill="#fff"/>
<text x="94.10" y="977.20" font-size="12.8" font-family="'Liberation Sans', sans-serif" font-weight="bold" text-anchor="middle" fill="#000" stroke="#000" stroke-width="0.2" >34.9</text>
<rect x="80.35" y="878.41" width="27.51" height="17.40" fill="#fff"/>
<text x="94.10" y="892.11" font-size="12.8" font-family="'Liberation Sans', sans-serif" font-weight="bold" text-anchor="middle" fill="#000" stroke="#000" stroke-width="0.2" >35.8</text>
<rect x="80.35" y="800.18" width="27.51" height="17.40" fill="#fff"/>
<text x="94.10" y="813.88" font-size="12.8" font-family="'Liberation Sans', sans-serif" font-weight="bold" text-anchor="middle" fill="#000" stroke="#000" stroke-width="0.2" >29.2</text>
<rect x="136.85" y="966.39" width="27.51" height="17.40" fill="#fff"/>
<text x="150.60" y="980.09" font-size="12.8" font-family="'Liberation Sans', sans-serif" font-weight="bold" text-anchor="middle" fill="#000" stroke="#000" stroke-width="0.2" >32.5</text>
<rect x="136.85" y="894.18" width="27.51" height="17.40" fill="#fff"/>
<text x="150.60" y="907.88" font-size="12.8" font-family="'Liberation Sans', sans-serif" font-weight="bold" text-anchor="middle" fill="#000" stroke="#000" stroke-width="0.2" >27.5</text>
<rect x="136.85" y="812.94" width="27.51" height="17.40" fill="#fff"/>
<text x="150.60" y="826.64" font-size="12.8" font-family="'Liberation Sans', sans-serif" font-weight="bold" text-anchor="middle" fill="#000" stroke="#000" stroke-width="0.2" >40.0</text>
<rect x="193.25" y="976.01" width="27.51" height="17.40" fill="#fff"/>
<text x="207.00" y="989.71" font-size="12.8" font-family="'Liberation Sans', sans-serif" font-weight="bold" text-anchor="middle" fill="#000" stroke="#000" stroke-width="0.2" >24.5</text>
<rect x="193.25" y="887.56" width="27.51" height="17.40" fill="#fff"/>
<text x="207.00" y="901.26" font-size="12.8" font-family="'Liberation Sans', sans-serif" font-weight="bold" text-anchor="middle" fill="#000" stroke="#000" stroke-width="0.2" >49.0</text>
<rect x="193.25" y="796.69" width="27.51" height="17.40" fill="#fff"/>
<text x="207.00" y="810.39" font-size="12.8" font-family="'Liberation Sans', sans-serif" font-weight="bold" text-anchor="middle" fill="#000" stroke="#000" stroke-width="0.2" >26.5</text>
<rect x="249.75" y="986.12" width="27.51" height="17.40" fill="#fff"/>
<text x="263.50" y="999.82" font-size="12.8" font-family="'Liberation Sans', sans-serif" font-weight="bold" text-anchor="middle" fill="#000" stroke="#000" stroke-width="0.2" >16.1</text>
<rect x="249.75" y="904.65" width="27.51" height="17.40" fill="#fff"/>
<text x="263.50" y="918.35" font-size="12.8" font-family="'Liberation Sans', sans-serif" font-weight="bold" text-anchor="middle" fill="#000" stroke="#000" stroke-width="0.2" >51.6</text>
<rect x="249.75" y="803.67" width="27.51" height="17.40" fill="#fff"/>
<text x="263.50" y="817.37" font-size="12.8" font-family="'Liberation Sans', sans-serif" font-weight="bold" text-anchor="middle" fill="#000" stroke="#000" stroke-width="0.2" >32.3</text>
<line x1="53.30" y1="745.30" x2="304.00" y2="745.30" stroke="#222" stroke-width="1.2"/>
<line x1="304.00" y1="745.30" x2="304.00" y2="1012.90" stroke="#222" stroke-width="1.2"/>
<line x1="53.30" y1="744.80" x2="53.30" y2="1013.60" stroke="#000" stroke-width="1.5"/>
<line x1="52.80" y1="1012.90" x2="304.50" y2="1012.90" stroke="#000" stroke-width="1.5"/>
<line x1="49.50" y1="1012.90" x2="53.30" y2="1012.90" stroke="#000" stroke-width="1.2"/>
<text x="47.20" y="1018.30" font-size="13" font-family="'Liberation Sans', sans-serif" font-weight="bold" text-anchor="end" fill="#000" stroke="#000" stroke-width="0.2" >0</text>
<line x1="49.50" y1="964.76" x2="53.30" y2="964.76" stroke="#000" stroke-width="1.2"/>
<text x="47.20" y="970.16" font-size="13" font-family="'Liberation Sans', sans-serif" font-weight="bold" text-anchor="end" fill="#000" stroke="#000" stroke-width="0.2" >20</text>
<line x1="49.50" y1="916.62" x2="53.30" y2="916.62" stroke="#000" stroke-width="1.2"/>
<text x="47.20" y="922.02" font-size="13" font-family="'Liberation Sans', sans-serif" font-weight="bold" text-anchor="end" fill="#000" stroke="#000" stroke-width="0.2" >40</text>
<line x1="49.50" y1="868.48" x2="53.30" y2="868.48" stroke="#000" stroke-width="1.2"/>
<text x="47.20" y="873.88" font-size="13" font-family="'Liberation Sans', sans-serif" font-weight="bold" text-anchor="end" fill="#000" stroke="#000" stroke-width="0.2" >60</text>
<line x1="49.50" y1="820.34" x2="53.30" y2="820.34" stroke="#000" stroke-width="1.2"/>
<text x="47.20" y="825.74" font-size="13" font-family="'Liberation Sans', sans-serif" font-weight="bold" text-anchor="end" fill="#000" stroke="#000" stroke-width="0.2" >80</text>
<line x1="49.50" y1="772.20" x2="53.30" y2="772.20" stroke="#000" stroke-width="1.2"/>
<text x="47.20" y="777.60" font-size="13" font-family="'Liberation Sans', sans-serif" font-weight="bold" text-anchor="end" fill="#000" stroke="#000" stroke-width="0.2" >100</text>
<line x1="94.10" y1="1012.90" x2="94.10" y2="1015.90" stroke="#555" stroke-width="1"/>
<text x="94.10" y="1029.90" font-size="13.3" font-family="'Liberation Sans', sans-serif" font-weight="bold" text-anchor="middle" fill="#000" stroke="#000" stroke-width="0.2" >18-30</text>
<text x="98.30" y="1048.60" font-size="14.5" font-family="'Liberation Sans', sans-serif" font-weight="bold" text-anchor="middle" fill="#000" stroke="#000" stroke-width="0.2" >106</text>
<line x1="150.60" y1="1012.90" x2="150.60" y2="1015.90" stroke="#555" stroke-width="1"/>
<text x="150.60" y="1029.90" font-size="13.3" font-family="'Liberation Sans', sans-serif" font-weight="bold" text-anchor="middle" fill="#000" stroke="#000" stroke-width="0.2" >31-40</text>
<text x="154.50" y="1048.60" font-size="14.5" font-family="'Liberation Sans', sans-serif" font-weight="bold" text-anchor="middle" fill="#000" stroke="#000" stroke-width="0.2" >40</text>
<line x1="207.00" y1="1012.90" x2="207.00" y2="1015.90" stroke="#555" stroke-width="1"/>
<text x="207.00" y="1029.90" font-size="13.3" font-family="'Liberation Sans', sans-serif" font-weight="bold" text-anchor="middle" fill="#000" stroke="#000" stroke-width="0.2" >41-50</text>
<text x="210.50" y="1048.60" font-size="14.5" font-family="'Liberation Sans', sans-serif" font-weight="bold" text-anchor="middle" fill="#000" stroke="#000" stroke-width="0.2" >49</text>
<line x1="263.50" y1="1012.90" x2="263.50" y2="1015.90" stroke="#555" stroke-width="1"/>
<text x="263.50" y="1029.90" font-size="13.3" font-family="'Liberation Sans', sans-serif" font-weight="bold" text-anchor="middle" fill="#000" stroke="#000" stroke-width="0.2" >51-83</text>
<text x="264.50" y="1048.60" font-size="14.5" font-family="'Liberation Sans', sans-serif" font-weight="bold" text-anchor="middle" fill="#000" stroke="#000" stroke-width="0.2" >31</text>
<text x="178.00" y="737.70" font-size="17" font-family="'Liberation Sans', sans-serif" font-weight="bold" text-anchor="middle" fill="#000" stroke="#000" stroke-width="0.2" >Ad5</text>
<rect x="356.75" y="939.14" width="42.70" height="72.66" fill="#DFDFDF"/>
<rect x="356.75" y="777.94" width="42.70" height="161.20" fill="url(#hatch)"/>
<rect x="356.75" y="771.20" width="42.70" height="6.74" fill="#262626"/>
<rect x="356.75" y="771.20" width="42.70" height="240.60" fill="none" stroke="#111" stroke-width="1.4"/>
<line x1="356.75" y1="939.14" x2="399.45" y2="939.14" stroke="#111" stroke-width="1.3"/>
<line x1="356.75" y1="777.94" x2="399.45" y2="777.94" stroke="#111" stroke-width="1.3"/>
<rect x="413.05" y="951.65" width="42.70" height="60.15" fill="#DFDFDF"/>
<rect x="413.05" y="801.28" width="42.70" height="150.37" fill="url(#hatch)"/>
<rect x="413.05" y="771.20" width="42.70" height="30.08" fill="#262626"/>
<rect x="413.05" y="771.20" width="42.70" height="240.60" fill="none" stroke="#111" stroke-width="1.4"/>
<line x1="413.05" y1="951.65" x2="455.75" y2="951.65" stroke="#111" stroke-width="1.3"/>
<line x1="413.05" y1="801.28" x2="455.75" y2="801.28" stroke="#111" stroke-width="1.3"/>
<rect x="469.45" y="942.99" width="42.70" height="68.81" fill="#DFDFDF"/>
<rect x="469.45" y="781.06" width="42.70" height="161.92" fill="url(#hatch)"/>
<rect x="469.45" y="771.20" width="42.70" height="9.86" fill="#262626"/>
<rect x="469.45" y="771.20" width="42.70" height="240.60" fill="none" stroke="#111" stroke-width="1.4"/>
<line x1="469.45" y1="942.99" x2="512.15" y2="942.99" stroke="#111" stroke-width="1.3"/>
<line x1="469.45" y1="781.06" x2="512.15" y2="781.06" stroke="#111" stroke-width="1.3"/>
<rect x="525.85" y="980.76" width="42.70" height="31.04" fill="#DFDFDF"/>
<rect x="525.85" y="794.54" width="42.70" height="186.22" fill="url(#hatch)"/>
<rect x="525.85" y="771.20" width="42.70" height="23.34" fill="#262626"/>
<rect x="525.85" y="771.20" width="42.70" height="240.60" fill="none" stroke="#111" stroke-width="1.4"/>
<line x1="525.85" y1="980.76" x2="568.55" y2="980.76" stroke="#111" stroke-width="1.3"/>
<line x1="525.85" y1="794.54" x2="568.55" y2="794.54" stroke="#111" stroke-width="1.3"/>
<rect x="364.35" y="968.07" width="27.51" height="17.40" fill="#fff"/>
<text x="378.10" y="981.77" font-size="12.8" font-family="'Liberation Sans', sans-serif" font-weight="bold" text-anchor="middle" fill="#000" stroke="#000" stroke-width="0.2" >30.2</text>
<rect x="364.35" y="851.14" width="27.51" height="17.40" fill="#fff"/>
<text x="378.10" y="864.84" font-size="12.8" font-family="'Liberation Sans', sans-serif" font-weight="bold" text-anchor="middle" fill="#000" stroke="#000" stroke-width="0.2" >67.0</text>
<rect x="367.90" y="765.87" width="20.39" height="17.40" fill="#fff"/>
<text x="378.10" y="779.57" font-size="12.8" font-family="'Liberation Sans', sans-serif" font-weight="bold" text-anchor="middle" fill="#000" stroke="#000" stroke-width="0.2" >2.8</text>
<rect x="420.65" y="974.32" width="27.51" height="17.40" fill="#fff"/>
<text x="434.40" y="988.02" font-size="12.8" font-family="'Liberation Sans', sans-serif" font-weight="bold" text-anchor="middle" fill="#000" stroke="#000" stroke-width="0.2" >25.0</text>
<rect x="420.65" y="869.06" width="27.51" height="17.40" fill="#fff"/>
<text x="434.40" y="882.76" font-size="12.8" font-family="'Liberation Sans', sans-serif" font-weight="bold" text-anchor="middle" fill="#000" stroke="#000" stroke-width="0.2" >62.5</text>
<rect x="420.65" y="778.84" width="27.51" height="17.40" fill="#fff"/>
<text x="434.40" y="792.54" font-size="12.8" font-family="'Liberation Sans', sans-serif" font-weight="bold" text-anchor="middle" fill="#000" stroke="#000" stroke-width="0.2" >12.5</text>
<rect x="477.05" y="969.99" width="27.51" height="17.40" fill="#fff"/>
<text x="490.80" y="983.69" font-size="12.8" font-family="'Liberation Sans', sans-serif" font-weight="bold" text-anchor="middle" fill="#000" stroke="#000" stroke-width="0.2" >28.6</text>
<rect x="477.05" y="854.63" width="27.51" height="17.40" fill="#fff"/>
<text x="490.80" y="868.33" font-size="12.8" font-family="'Liberation Sans', sans-serif" font-weight="bold" text-anchor="middle" fill="#000" stroke="#000" stroke-width="0.2" >67.3</text>
<rect x="480.60" y="767.43" width="20.39" height="17.40" fill="#fff"/>
<text x="490.80" y="781.13" font-size="12.8" font-family="'Liberation Sans', sans-serif" font-weight="bold" text-anchor="middle" fill="#000" stroke="#000" stroke-width="0.2" >4.1</text>
<rect x="533.45" y="988.88" width="27.51" height="17.40" fill="#fff"/>
<text x="547.20" y="1002.58" font-size="12.8" font-family="'Liberation Sans', sans-serif" font-weight="bold" text-anchor="middle" fill="#000" stroke="#000" stroke-width="0.2" >12.9</text>
<rect x="533.45" y="880.25" width="27.51" height="17.40" fill="#fff"/>
<text x="547.20" y="893.95" font-size="12.8" font-family="'Liberation Sans', sans-serif" font-weight="bold" text-anchor="middle" fill="#000" stroke="#000" stroke-width="0.2" >77.4</text>
<rect x="537.00" y="775.47" width="20.39" height="17.40" fill="#fff"/>
<text x="547.20" y="789.17" font-size="12.8" font-family="'Liberation Sans', sans-serif" font-weight="bold" text-anchor="middle" fill="#000" stroke="#000" stroke-width="0.2" >9.7</text>
<line x1="337.10" y1="744.00" x2="587.20" y2="744.00" stroke="#222" stroke-width="1.2"/>
<line x1="587.20" y1="744.00" x2="587.20" y2="1011.80" stroke="#222" stroke-width="1.2"/>
<line x1="337.10" y1="743.50" x2="337.10" y2="1012.50" stroke="#000" stroke-width="1.5"/>
<line x1="336.60" y1="1011.80" x2="587.70" y2="1011.80" stroke="#000" stroke-width="1.5"/>
<line x1="333.30" y1="1011.80" x2="337.10" y2="1011.80" stroke="#000" stroke-width="1.2"/>
<text x="330.80" y="1017.20" font-size="13" font-family="'Liberation Sans', sans-serif" font-weight="bold" text-anchor="end" fill="#000" stroke="#000" stroke-width="0.2" >0</text>
<line x1="333.30" y1="963.68" x2="337.10" y2="963.68" stroke="#000" stroke-width="1.2"/>
<text x="330.80" y="969.08" font-size="13" font-family="'Liberation Sans', sans-serif" font-weight="bold" text-anchor="end" fill="#000" stroke="#000" stroke-width="0.2" >20</text>
<line x1="333.30" y1="915.56" x2="337.10" y2="915.56" stroke="#000" stroke-width="1.2"/>
<text x="330.80" y="920.96" font-size="13" font-family="'Liberation Sans', sans-serif" font-weight="bold" text-anchor="end" fill="#000" stroke="#000" stroke-width="0.2" >40</text>
<line x1="333.30" y1="867.44" x2="337.10" y2="867.44" stroke="#000" stroke-width="1.2"/>
<text x="330.80" y="872.84" font-size="13" font-family="'Liberation Sans', sans-serif" font-weight="bold" text-anchor="end" fill="#000" stroke="#000" stroke-width="0.2" >60</text>
<line x1="333.30" y1="819.32" x2="337.10" y2="819.32" stroke="#000" stroke-width="1.2"/>
<text x="330.80" y="824.72" font-size="13" font-family="'Liberation Sans', sans-serif" font-weight="bold" text-anchor="end" fill="#000" stroke="#000" stroke-width="0.2" >80</text>
<line x1="333.30" y1="771.20" x2="337.10" y2="771.20" stroke="#000" stroke-width="1.2"/>
<text x="330.80" y="776.60" font-size="13" font-family="'Liberation Sans', sans-serif" font-weight="bold" text-anchor="end" fill="#000" stroke="#000" stroke-width="0.2" >100</text>
<line x1="378.10" y1="1011.80" x2="378.10" y2="1014.80" stroke="#555" stroke-width="1"/>
<text x="378.10" y="1028.90" font-size="13.3" font-family="'Liberation Sans', sans-serif" font-weight="bold" text-anchor="middle" fill="#000" stroke="#000" stroke-width="0.2" >18-30</text>
<text x="380.70" y="1048.60" font-size="14.5" font-family="'Liberation Sans', sans-serif" font-weight="bold" text-anchor="middle" fill="#000" stroke="#000" stroke-width="0.2" >106</text>
<line x1="434.40" y1="1011.80" x2="434.40" y2="1014.80" stroke="#555" stroke-width="1"/>
<text x="434.40" y="1028.90" font-size="13.3" font-family="'Liberation Sans', sans-serif" font-weight="bold" text-anchor="middle" fill="#000" stroke="#000" stroke-width="0.2" >31-40</text>
<text x="437.20" y="1048.60" font-size="14.5" font-family="'Liberation Sans', sans-serif" font-weight="bold" text-anchor="middle" fill="#000" stroke="#000" stroke-width="0.2" >40</text>
<line x1="490.80" y1="1011.80" x2="490.80" y2="1014.80" stroke="#555" stroke-width="1"/>
<text x="490.80" y="1028.90" font-size="13.3" font-family="'Liberation Sans', sans-serif" font-weight="bold" text-anchor="middle" fill="#000" stroke="#000" stroke-width="0.2" >41-50</text>
<text x="491.90" y="1048.60" font-size="14.5" font-family="'Liberation Sans', sans-serif" font-weight="bold" text-anchor="middle" fill="#000" stroke="#000" stroke-width="0.2" >49</text>
<line x1="547.20" y1="1011.80" x2="547.20" y2="1014.80" stroke="#555" stroke-width="1"/>
<text x="547.20" y="1028.90" font-size="13.3" font-family="'Liberation Sans', sans-serif" font-weight="bold" text-anchor="middle" fill="#000" stroke="#000" stroke-width="0.2" >51-83</text>
<text x="547.70" y="1048.60" font-size="14.5" font-family="'Liberation Sans', sans-serif" font-weight="bold" text-anchor="middle" fill="#000" stroke="#000" stroke-width="0.2" >31</text>
<text x="476.50" y="736.50" font-size="17" font-family="'Liberation Sans', sans-serif" font-weight="bold" text-anchor="middle" fill="#000" stroke="#000" stroke-width="0.2" >Ad41</text>
<text x="11.60" y="877.20" font-size="15.2" font-family="'Liberation Sans', sans-serif" font-weight="bold" text-anchor="middle" fill="#000" stroke="#000" stroke-width="0.2" transform="rotate(-90 11.60 877.20)" >Percent (%)</text>
<text x="26.80" y="1029.90" font-size="14" font-family="'Liberation Sans', sans-serif" font-weight="bold" text-anchor="start" fill="#000" stroke="#000" stroke-width="0.2" textLength="31.00" lengthAdjust="spacingAndGlyphs" >Age:</text>
<text x="45.00" y="1049.00" font-size="14" font-family="'Liberation Sans', sans-serif" font-weight="bold" text-anchor="start" fill="#000" stroke="#000" stroke-width="0.2" >n:</text>
<text x="574.90" y="1030.20" font-size="14" font-family="'Liberation Sans', sans-serif" font-weight="bold" text-anchor="start" fill="#000" stroke="#000" stroke-width="0.2" >years</text>
<text x="597.20" y="758.60" font-size="15.6" font-family="'Liberation Serif', serif" font-weight="bold" text-anchor="start" fill="#000" stroke="#000" stroke-width="0.35" >NAb titer</text>
<rect x="598.50" y="771.40" width="12.90" height="12.70" fill="#262626" stroke="#111" stroke-width="1.4"/>
<text x="616.20" y="782.20" font-size="14" font-family="'Liberation Sans', sans-serif" font-weight="bold" text-anchor="start" fill="#000" stroke="#000" stroke-width="0.2" >≥2560</text>
<rect x="598.50" y="790.25" width="12.90" height="12.70" fill="url(#hatch2)" stroke="#111" stroke-width="1.4"/>
<text x="616.20" y="801.05" font-size="14" font-family="'Liberation Sans', sans-serif" font-weight="bold" text-anchor="start" fill="#000" stroke="#000" stroke-width="0.2" >160-640</text>
<rect x="598.50" y="809.10" width="12.90" height="12.70" fill="#DFDFDF" stroke="#111" stroke-width="1.4"/>
<text x="616.20" y="819.90" font-size="14" font-family="'Liberation Sans', sans-serif" font-weight="bold" text-anchor="start" fill="#000" stroke="#000" stroke-width="0.2" >≤ 40</text>
</svg>
</body></html>
